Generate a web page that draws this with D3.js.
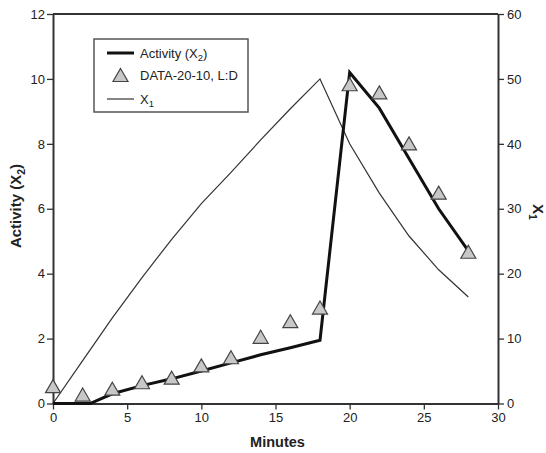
<!DOCTYPE html>
<html>
<head>
  <style>
    body { margin: 0; background: #fff; }
    text { font-family: "Liberation Sans", Arial, sans-serif; fill: #222; }
  </style>
</head>
<body>
  <script src="https://d3js.org/d3.v7.min.js"></script>
  <script>
    // observed data (triangles), minutes vs activity
    var dataMinutes = [0, 2, 4, 6, 8, 10, 12, 14, 16, 18, 20, 22, 24, 26, 28];
    var dataActivity = [0.52, 0.26, 0.44, 0.64, 0.78, 1.16, 1.41, 2.04, 2.52, 2.94, 9.82, 9.57, 8.0, 6.48, 4.66];

    // model activity X2 (thick line, left axis)
    var x2Minutes = [0, 2.5, 4, 6, 8, 10, 12, 14, 16, 18, 20, 22, 24, 26, 28];
    var x2Values = [0, 0, 0.3, 0.55, 0.76, 1.0, 1.25, 1.5, 1.72, 1.95, 10.2, 9.1, 7.55, 6.0, 4.7];

    // X1 (thin line, right axis)
    var x1Minutes = [0, 2, 4, 6, 8, 10, 12, 14, 16, 18, 20, 22, 24, 26, 28];
    var x1Values = [0, 6.6, 13.2, 19.4, 25.3, 30.8, 35.6, 40.6, 45.4, 50, 40, 32.4, 25.8, 20.6, 16.4];

    var xTicks = [0, 5, 10, 15, 20, 25, 30];
    var leftTicks = [0, 2, 4, 6, 8, 10, 12];
    var rightTicks = [0, 10, 20, 30, 40, 50, 60];

    var W = 546, H = 453;
    var margin = { top: 14, right: 48, bottom: 49.5, left: 53 };
    var width = W - margin.left - margin.right,
        height = H - margin.top - margin.bottom;

    var svg = d3.select("body").append("svg")
      .attr("width", W).attr("height", H);
    var g = svg.append("g")
      .attr("transform", "translate(" + margin.left + "," + margin.top + ")");

    var x = d3.scaleLinear().domain([0, 30]).range([0, width]);
    var yL = d3.scaleLinear().domain([0, 12]).range([height, 0]);
    var yR = d3.scaleLinear().domain([0, 60]).range([height, 0]);

    function styleAxis(sel) {
      sel.selectAll("path").attr("stroke", "#333").attr("stroke-width", 2);
      sel.selectAll("line").attr("stroke", "#333").attr("stroke-width", 1.3);
      sel.selectAll("text").style("font-size", "13px").attr("fill", "#333")
        .style("font-family", "'Liberation Sans', Arial, sans-serif");
    }

    // top frame line
    g.append("line")
      .attr("x1", 0).attr("x2", width).attr("y1", 0).attr("y2", 0)
      .attr("stroke", "#333").attr("stroke-width", 2);

    g.append("g")
      .attr("transform", "translate(0," + height + ")")
      .call(d3.axisBottom(x).tickValues(xTicks).tickSize(6).tickSizeOuter(0).tickPadding(3))
      .call(styleAxis);

    g.append("g")
      .call(d3.axisLeft(yL).tickValues(leftTicks).tickSize(6).tickSizeOuter(0).tickPadding(2))
      .call(styleAxis);

    g.append("g")
      .attr("transform", "translate(" + width + ",0)")
      .call(d3.axisRight(yR).tickValues(rightTicks).tickSize(6).tickSizeOuter(0).tickPadding(3))
      .call(styleAxis);

    // X1 thin line
    var x1Pts = x1Minutes.map(function (m, i) { return [m, x1Values[i]]; });
    g.append("path")
      .datum(x1Pts)
      .attr("fill", "none").attr("stroke", "#333").attr("stroke-width", 1.2)
      .attr("d", d3.line().x(function (d) { return x(d[0]); }).y(function (d) { return yR(d[1]); }));

    // Activity thick line
    var x2Pts = x2Minutes.map(function (m, i) { return [m, x2Values[i]]; });
    g.append("path")
      .datum(x2Pts)
      .attr("fill", "none").attr("stroke", "#111").attr("stroke-width", 3)
      .attr("stroke-linejoin", "miter")
      .attr("d", d3.line().x(function (d) { return x(d[0]); }).y(function (d) { return yL(d[1]); }));

    // triangles, centred on the point
    var triPath = "M0,-7L7.5,6L-7.5,6Z";
    var dataPts = dataMinutes.map(function (m, i) { return [m, dataActivity[i]]; });
    g.selectAll(".tri")
      .data(dataPts)
      .enter().append("path")
      .attr("class", "tri")
      .attr("d", triPath)
      .attr("transform", function (d) { return "translate(" + x(d[0]) + "," + yL(d[1]) + ")"; })
      .attr("fill", "#c8c8c8").attr("stroke", "#444").attr("stroke-width", 1.2);

    // axis titles
    svg.append("text")
      .attr("x", (margin.left + margin.left + width) / 2 + 2).attr("y", 447)
      .attr("text-anchor", "middle")
      .style("font-size", "14.5px").style("font-weight", "bold")
      .text("Minutes");

    var lt = svg.append("text")
      .attr("transform", "translate(21,206) rotate(-90)")
      .attr("text-anchor", "middle")
      .style("font-size", "15px").style("font-weight", "bold");
    lt.append("tspan").text("Activity (X");
    lt.append("tspan").attr("dy", 4).style("font-size", "10.5px").text("2");
    lt.append("tspan").attr("dy", -4).text(")");

    var rt = svg.append("text")
      .attr("transform", "translate(533,212) rotate(90)")
      .attr("text-anchor", "middle")
      .style("font-size", "15px").style("font-weight", "bold");
    rt.append("tspan").text("X");
    rt.append("tspan").attr("dy", 4).style("font-size", "10.5px").text("1");

    // legend
    var lg = svg.append("g").attr("transform", "translate(94,39)");
    lg.append("rect")
      .attr("width", 154).attr("height", 73)
      .attr("fill", "#fff").attr("stroke", "#555").attr("stroke-width", 1.5);

    lg.append("line").attr("x1", 13).attr("x2", 40).attr("y1", 14).attr("y2", 14)
      .attr("stroke", "#111").attr("stroke-width", 3);
    var t1 = lg.append("text").attr("x", 46).attr("y", 18.5).style("font-size", "13px");
    t1.append("tspan").text("Activity (X");
    t1.append("tspan").attr("dy", 3).style("font-size", "9.5px").text("2");
    t1.append("tspan").attr("dy", -3).text(")");

    lg.append("path").attr("d", triPath)
      .attr("transform", "translate(26.5,36.5)")
      .attr("fill", "#c8c8c8").attr("stroke", "#444").attr("stroke-width", 1.2);
    lg.append("text").attr("x", 46).attr("y", 41).style("font-size", "13px")
      .text("DATA-20-10, L:D");

    lg.append("line").attr("x1", 13).attr("x2", 40).attr("y1", 60).attr("y2", 60)
      .attr("stroke", "#333").attr("stroke-width", 1.2);
    var t3 = lg.append("text").attr("x", 46).attr("y", 64.5).style("font-size", "13px");
    t3.append("tspan").text("X");
    t3.append("tspan").attr("dy", 3).style("font-size", "9.5px").text("1");
  </script>
</body>
</html>
